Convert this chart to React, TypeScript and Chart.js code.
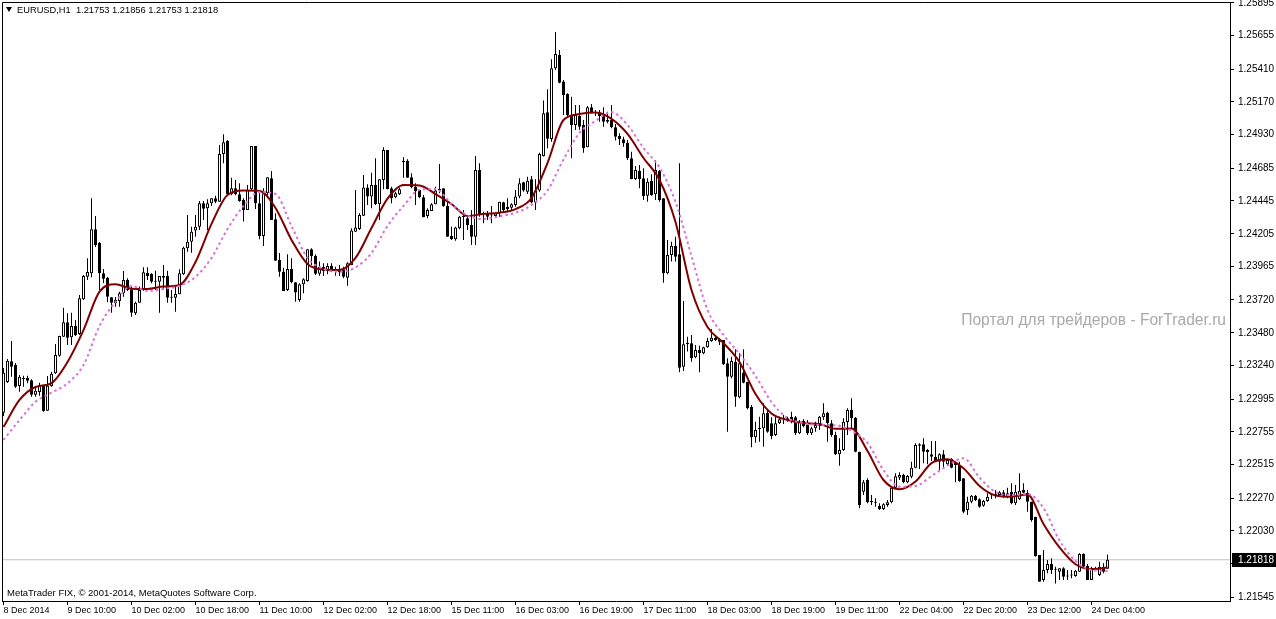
import React, { useEffect, useRef } from "react";
import { Chart, registerables } from "chart.js";

Chart.register(...registerables);

const symbolLabel = "EURUSD,H1";
const copyrightText = "MetaTrader FIX, © 2001-2014, MetaQuotes Software Corp.";
const watermarkText = "Портал для трейдеров - ForTrader.ru";

const opens = [
  1.22895,1.23120,1.23271,1.23246,1.23090,1.23142,1.23151,1.23132,1.23027,1.23046,
  1.23095,1.22909,1.23090,1.23183,1.23312,1.23451,1.23557,1.23447,1.23530,1.23471,
  1.23725,1.23891,1.23916,1.24238,1.24140,1.23916,1.23883,1.23740,1.23696,1.23713,
  1.23769,1.23867,1.23799,1.23623,1.23700,1.23793,1.23920,1.23911,1.23854,1.23854,
  1.23896,1.23896,1.23737,1.23737,1.23762,1.23908,1.24099,1.24147,1.24228,1.24257,
  1.24428,1.24392,1.24428,1.24465,1.24440,1.24789,1.24885,1.24494,1.24538,1.24494,
  1.24452,1.24379,1.24531,1.24848,1.24428,1.24189,1.24501,1.24611,1.24311,1.24013,
  1.23927,1.23793,1.23947,1.23850,1.23720,1.23835,1.23859,1.24091,1.24042,1.23913,
  1.23964,1.23935,1.23969,1.23947,1.23949,1.23945,1.23883,1.23976,1.24220,1.24240,
  1.24337,1.24543,1.24477,1.24562,1.24423,1.24599,1.24819,1.24538,1.24472,1.24494,
  1.24731,1.24740,1.24619,1.24550,1.24526,1.24472,1.24335,1.24372,1.24421,1.24521,
  1.24538,1.24409,1.24189,1.24165,1.24245,1.24328,1.24318,1.24269,1.24184,1.24672,
  1.24355,1.24355,1.24343,1.24335,1.24355,1.24436,1.24403,1.24396,1.24416,1.24477,
  1.24582,1.24513,1.24604,1.24433,1.24521,1.24775,1.25095,1.24899,1.25417,1.25514,
  1.25319,1.25229,1.25075,1.25002,1.25068,1.25002,1.24838,1.25131,1.25095,1.25095,
  1.25082,1.25038,1.25038,1.24985,1.24921,1.24897,1.24872,1.24758,1.24606,1.24667,
  1.24611,1.24484,1.24592,1.24494,1.24665,1.24465,1.23916,1.24050,1.24118,1.24055,
  1.23232,1.23398,1.23403,1.23300,1.23354,1.23330,1.23374,1.23420,1.23444,1.23435,
  1.23427,1.23257,1.23158,1.23268,1.23008,1.23188,1.23122,1.22939,1.22715,1.22773,
  1.22781,1.22895,1.22817,1.22732,1.22817,1.22846,1.22854,1.22866,1.22861,1.22744,
  1.22836,1.22805,1.22744,1.22781,1.22797,1.22861,1.22895,1.22817,1.22732,1.22590,
  1.22622,1.22827,1.22915,1.22858,1.22609,1.22316,1.22402,1.22248,1.22241,1.22214,
  1.22190,1.22219,1.22239,1.22346,1.22419,1.22439,1.22385,1.22426,1.22492,1.22653,
  1.22663,1.22622,1.22590,1.22573,1.22536,1.22590,1.22517,1.22556,1.22532,1.22512,
  1.22414,1.22182,1.22243,1.22287,1.22261,1.22214,1.22248,1.22292,1.22292,1.22292,
  1.22312,1.22280,1.22316,1.22231,1.22261,1.22329,1.22309,1.22243,1.22133,1.21853,
  1.21670,1.21743,1.21787,1.21748,1.21730,1.21755,1.21699,1.21706,1.21699,1.21730,
  1.21860,1.21772,1.21670,1.21755,1.21706,1.21767,1.21753,
];

const highs = [
  1.23222,1.23288,1.23420,1.23259,1.23171,1.23166,1.23166,1.23139,1.23090,1.23114,
  1.23098,1.23164,1.23195,1.23398,1.23459,1.23664,1.23623,1.23627,1.23574,1.23757,
  1.23903,1.24026,1.24465,1.24335,1.24145,1.23947,1.23889,1.23742,1.23742,1.23781,
  1.23933,1.23879,1.23818,1.23708,1.23818,1.23960,1.23960,1.23916,1.23935,1.23896,
  1.23976,1.23935,1.23793,1.23818,1.23945,1.24110,1.24343,1.24257,1.24343,1.24445,
  1.24445,1.24458,1.24465,1.24484,1.24855,1.24934,1.24892,1.24616,1.24599,1.24575,
  1.24465,1.24562,1.24848,1.24848,1.24501,1.24538,1.24619,1.24665,1.24355,1.24064,
  1.23957,1.24055,1.24026,1.23850,1.23842,1.23879,1.24091,1.24099,1.24055,1.24001,
  1.23989,1.23989,1.23989,1.23964,1.23976,1.23964,1.23996,1.24245,1.24526,1.24355,
  1.24636,1.24567,1.24652,1.24758,1.24604,1.24838,1.24819,1.24550,1.24513,1.24543,
  1.24765,1.24750,1.24648,1.24575,1.24526,1.24489,1.24392,1.24428,1.24550,1.24716,
  1.24538,1.24452,1.24257,1.24257,1.24335,1.24379,1.24343,1.24379,1.24775,1.24721,
  1.24367,1.24372,1.24409,1.24359,1.24440,1.24440,1.24465,1.24428,1.24526,1.24611,
  1.24586,1.24623,1.24628,1.24604,1.24799,1.25180,1.25263,1.25483,1.25683,1.25551,
  1.25331,1.25234,1.25209,1.25148,1.25148,1.25038,1.25141,1.25155,1.25112,1.25112,
  1.25131,1.25099,1.25148,1.25009,1.24941,1.24916,1.24892,1.24806,1.24701,1.24709,
  1.24685,1.24611,1.24641,1.24745,1.24672,1.24465,1.24160,1.24147,1.24184,1.24721,
  1.23713,1.23451,1.23464,1.23391,1.23385,1.23378,1.23444,1.23508,1.23464,1.23440,
  1.23427,1.23293,1.23305,1.23359,1.23330,1.23359,1.23122,1.22951,1.22829,1.22866,
  1.22964,1.22915,1.22861,1.22866,1.22866,1.22878,1.22866,1.22902,1.22871,1.22841,
  1.22846,1.22841,1.22792,1.22829,1.22871,1.22964,1.22902,1.22841,1.22756,1.22707,
  1.22854,1.22927,1.23000,1.22863,1.22609,1.22402,1.22414,1.22292,1.22268,1.22231,
  1.22231,1.22256,1.22353,1.22451,1.22458,1.22448,1.22439,1.22536,1.22671,1.22671,
  1.22707,1.22629,1.22688,1.22688,1.22597,1.22622,1.22556,1.22561,1.22536,1.22536,
  1.22414,1.22280,1.22292,1.22292,1.22268,1.22256,1.22305,1.22305,1.22329,1.22321,
  1.22329,1.22346,1.22378,1.22365,1.22451,1.22378,1.22329,1.22243,1.22133,1.21853,
  1.21889,1.21816,1.21829,1.21767,1.21755,1.21763,1.21743,1.21743,1.21743,1.21865,
  1.21865,1.21787,1.21767,1.21767,1.21804,1.21792,1.21856,
];

const lows = [
  1.22871,1.23112,1.23158,1.23076,1.23049,1.23085,1.23110,1.23012,1.23012,1.23019,
  1.22902,1.22909,1.23085,1.23178,1.23305,1.23451,1.23391,1.23391,1.23456,1.23464,
  1.23720,1.23867,1.23886,1.24108,1.23793,1.23842,1.23703,1.23627,1.23671,1.23671,
  1.23744,1.23786,1.23598,1.23610,1.23700,1.23788,1.23867,1.23842,1.23793,1.23627,
  1.23793,1.23700,1.23700,1.23634,1.23762,1.23903,1.24074,1.24066,1.24184,1.24233,
  1.24306,1.24233,1.24409,1.24428,1.24440,1.24721,1.24489,1.24487,1.24487,1.24440,
  1.24294,1.24379,1.24526,1.24386,1.24165,1.24115,1.24465,1.24306,1.24008,1.23891,
  1.23786,1.23786,1.23842,1.23708,1.23708,1.23769,1.23854,1.23976,1.23903,1.23898,
  1.23896,1.23908,1.23927,1.23898,1.23896,1.23879,1.23825,1.23976,1.24220,1.24233,
  1.24335,1.24416,1.24392,1.24416,1.24306,1.24531,1.24531,1.24428,1.24465,1.24489,
  1.24616,1.24616,1.24538,1.24416,1.24465,1.24326,1.24318,1.24372,1.24421,1.24501,
  1.24403,1.24184,1.24160,1.24154,1.24238,1.24160,1.24233,1.24123,1.24123,1.24330,
  1.24282,1.24306,1.24282,1.24326,1.24330,1.24367,1.24367,1.24379,1.24403,1.24465,
  1.24513,1.24496,1.24428,1.24379,1.24513,1.24770,1.24831,1.24879,1.25404,1.25307,
  1.25075,1.25068,1.24758,1.24965,1.24965,1.24799,1.24838,1.25087,1.25068,1.25026,
  1.24989,1.25014,1.24977,1.24887,1.24855,1.24843,1.24745,1.24604,1.24599,1.24538,
  1.24452,1.24440,1.24484,1.24452,1.24440,1.23847,1.23908,1.24001,1.24001,1.23191,
  1.23200,1.23342,1.23268,1.23293,1.23191,1.23322,1.23371,1.23415,1.23420,1.23391,
  1.23244,1.22756,1.23147,1.22939,1.23000,1.23110,1.22920,1.22641,1.22675,1.22682,
  1.22646,1.22748,1.22700,1.22724,1.22812,1.22812,1.22829,1.22817,1.22732,1.22739,
  1.22788,1.22732,1.22732,1.22756,1.22768,1.22841,1.22682,1.22719,1.22585,1.22507,
  1.22614,1.22732,1.22781,1.22605,1.22195,1.22292,1.22231,1.22219,1.22206,1.22182,
  1.22182,1.22206,1.22231,1.22341,1.22402,1.22378,1.22378,1.22414,1.22488,1.22483,
  1.22524,1.22517,1.22541,1.22532,1.22475,1.22488,1.22512,1.22488,1.22385,1.22390,
  1.22158,1.22146,1.22231,1.22248,1.22199,1.22206,1.22243,1.22263,1.22268,1.22287,
  1.22272,1.22268,1.22224,1.22219,1.22256,1.22292,1.22170,1.22097,1.21840,1.21657,
  1.21657,1.21719,1.21714,1.21645,1.21670,1.21670,1.21670,1.21682,1.21694,1.21730,
  1.21763,1.21670,1.21670,1.21743,1.21699,1.21719,1.21753,
];

const closes = [
  1.23188,1.23276,1.23232,1.23085,1.23158,1.23149,1.23129,1.23027,1.23056,1.23092,
  1.22907,1.23092,1.23180,1.23317,1.23456,1.23557,1.23444,1.23530,1.23462,1.23733,
  1.23896,1.23925,1.24238,1.24123,1.23916,1.23876,1.23744,1.23700,1.23720,1.23769,
  1.23867,1.23793,1.23627,1.23700,1.23793,1.23923,1.23896,1.23854,1.23859,1.23896,
  1.23883,1.23737,1.23744,1.23764,1.23916,1.24103,1.24147,1.24220,1.24257,1.24428,
  1.24389,1.24428,1.24465,1.24440,1.24789,1.24875,1.24494,1.24538,1.24494,1.24445,
  1.24379,1.24526,1.24848,1.24428,1.24189,1.24501,1.24619,1.24306,1.24008,1.23927,
  1.23786,1.23947,1.23850,1.23774,1.23835,1.23872,1.24091,1.24042,1.23913,1.23964,
  1.23933,1.23969,1.23935,1.23933,1.23923,1.23891,1.23989,1.24228,1.24250,1.24343,
  1.24543,1.24477,1.24562,1.24423,1.24604,1.24819,1.24531,1.24465,1.24501,1.24531,
  1.24740,1.24616,1.24545,1.24518,1.24472,1.24326,1.24379,1.24421,1.24521,1.24533,
  1.24409,1.24184,1.24167,1.24250,1.24330,1.24335,1.24269,1.24184,1.24672,1.24343,
  1.24350,1.24330,1.24339,1.24355,1.24440,1.24379,1.24386,1.24421,1.24477,1.24575,
  1.24521,1.24594,1.24433,1.24521,1.24789,1.25087,1.24901,1.25417,1.25522,1.25311,
  1.25221,1.25075,1.25002,1.25075,1.24989,1.24831,1.25131,1.25087,1.25090,1.25068,
  1.25026,1.25026,1.24985,1.24916,1.24897,1.24868,1.24758,1.24606,1.24672,1.24606,
  1.24482,1.24586,1.24489,1.24672,1.24452,1.23916,1.24050,1.24118,1.24037,1.23224,
  1.23396,1.23405,1.23293,1.23354,1.23330,1.23374,1.23420,1.23444,1.23427,1.23415,
  1.23249,1.23158,1.23273,1.23012,1.23257,1.23114,1.22927,1.22715,1.22768,1.22785,
  1.22890,1.22756,1.22724,1.22817,1.22846,1.22858,1.22841,1.22841,1.22744,1.22829,
  1.22797,1.22744,1.22781,1.22805,1.22866,1.22890,1.22817,1.22732,1.22590,1.22622,
  1.22829,1.22915,1.22854,1.22609,1.22219,1.22385,1.22239,1.22239,1.22236,1.22190,
  1.22224,1.22239,1.22346,1.22429,1.22439,1.22385,1.22431,1.22492,1.22658,1.22663,
  1.22609,1.22605,1.22573,1.22532,1.22590,1.22536,1.22548,1.22492,1.22512,1.22395,
  1.22170,1.22243,1.22287,1.22256,1.22206,1.22248,1.22280,1.22290,1.22295,1.22312,
  1.22280,1.22305,1.22231,1.22316,1.22324,1.22309,1.22243,1.22109,1.21845,1.21657,
  1.21743,1.21787,1.21743,1.21744,1.21755,1.21694,1.21696,1.21703,1.21738,1.21860,
  1.21767,1.21670,1.21755,1.21753,1.21767,1.21730,1.21818,
];

// moving averages read every 4 bars
const maStep = 4;
const maFast = [
  1.22790,1.22988,1.23083,1.23112,1.23266,1.23500,1.23781,1.23835,1.23803,1.23801,
  1.23818,1.23830,1.23998,1.24277,1.24489,1.24521,1.24518,1.24394,1.24160,1.23984,
  1.23944,1.23940,1.24028,1.24247,1.24462,1.24562,1.24559,1.24496,1.24423,1.24335,
  1.24350,1.24359,1.24386,1.24467,1.24723,1.25038,1.25082,1.25092,1.25046,1.24936,
  1.24760,1.24599,1.24291,1.23793,1.23522,1.23405,1.23266,1.23032,1.22889,1.22841,
  1.22819,1.22812,1.22777,1.22779,1.22614,1.22402,1.22334,1.22391,1.22526,1.22554,
  1.22488,1.22358,1.22289,1.22280,1.22296,1.22080,1.21908,1.21785,1.21750,1.21761,
];
const maSlow = [
  1.22695,1.22841,1.22975,1.23041,1.23110,1.23244,1.23530,1.23706,1.23823,1.23786,
  1.23801,1.23823,1.23889,1.24028,1.24240,1.24409,1.24511,1.24496,1.24262,1.24028,
  1.23949,1.23927,1.23958,1.24064,1.24262,1.24409,1.24526,1.24533,1.24423,1.24339,
  1.24313,1.24333,1.24359,1.24416,1.24522,1.24749,1.24943,1.25031,1.25095,1.25002,
  1.24833,1.24690,1.24438,1.24042,1.23647,1.23464,1.23325,1.23164,1.22973,1.22856,
  1.22819,1.22805,1.22803,1.22761,1.22673,1.22475,1.22353,1.22358,1.22431,1.22507,
  1.22561,1.22420,1.22314,1.22292,1.22299,1.22197,1.21959,1.21809,1.21743,1.21736,
];

const priceTicks = [
  1.25895, 1.25655, 1.2541, 1.2517, 1.2493, 1.24685, 1.24445, 1.24205, 1.23965, 1.2372,
  1.2348, 1.2324, 1.22995, 1.22755, 1.22515, 1.2227, 1.2203, 1.2179, 1.21545,
];
const timeLabels = [
  "8 Dec 2014", "9 Dec 10:00", "10 Dec 02:00", "10 Dec 18:00", "11 Dec 10:00",
  "12 Dec 02:00", "12 Dec 18:00", "15 Dec 11:00", "16 Dec 03:00", "16 Dec 19:00",
  "17 Dec 11:00", "18 Dec 03:00", "18 Dec 19:00", "19 Dec 11:00", "22 Dec 04:00",
  "22 Dec 20:00", "23 Dec 12:00", "24 Dec 04:00",
];
const timeLabelStep = 16;

const X_MIN = -0.375;
const X_MAX = 306.625;
const Y_MIN = 1.21516;
const Y_MAX = 1.25902;
const FONT = "'Liberation Sans', Arial, sans-serif";

const overlayPlugin = {
  id: "mtOverlay",
  beforeDatasetsDraw(chart: any) {
    const { ctx, chartArea } = chart;
    ctx.save();
    ctx.fillStyle = "#a9a9a9";
    ctx.font = `15.6px ${FONT}`;
    ctx.textAlign = "right";
    ctx.textBaseline = "middle";
    ctx.fillText(watermarkText, chartArea.right - 4, 321);
    ctx.restore();
  },
  afterDraw(chart: any) {
    const { ctx, chartArea, scales, width } = chart;
    ctx.save();
    // frame (left / top)
    ctx.strokeStyle = "#000";
    ctx.lineWidth = 1;
    ctx.beginPath();
    ctx.moveTo(chartArea.left + 0.5, chartArea.bottom);
    ctx.lineTo(chartArea.left + 0.5, chartArea.top + 0.5);
    ctx.lineTo(chartArea.right, chartArea.top + 0.5);
    ctx.stroke();

    // header
    const n = closes.length - 1;
    ctx.fillStyle = "#000";
    ctx.beginPath();
    ctx.moveTo(chartArea.left + 4, 7);
    ctx.lineTo(chartArea.left + 10, 7);
    ctx.lineTo(chartArea.left + 7, 12);
    ctx.closePath();
    ctx.fill();
    ctx.font = `9.3px ${FONT}`;
    ctx.textAlign = "left";
    ctx.textBaseline = "middle";
    const header = `${symbolLabel}  ${opens[n].toFixed(5)} ${highs[n].toFixed(5)} ${lows[n].toFixed(5)} ${closes[n].toFixed(5)}`;
    ctx.fillText(header, chartArea.left + 15, 10);

    // copyright
    ctx.font = `9.5px ${FONT}`;
    ctx.fillText(copyrightText, chartArea.left + 5, 593);

    // current price box
    const py = Math.round(scales.y.getPixelForValue(closes[n]));
    ctx.fillStyle = "#000";
    ctx.fillRect(chartArea.right + 2, py - 7, width - chartArea.right - 2, 14);
    ctx.fillStyle = "#fff";
    ctx.font = `10px ${FONT}`;
    ctx.fillText(closes[n].toFixed(5), chartArea.right + 8, py);
    ctx.restore();
  },
};

export default function App() {
  const ref = useRef<HTMLCanvasElement | null>(null);

  useEffect(() => {
    document.body.style.margin = "0";
    const canvas = ref.current;
    if (!canvas) return;
    const idx = closes.map((_, i) => i);
    const n = closes.length - 1;
    const chart = new Chart(canvas, {
      type: "bar",
      data: {
        datasets: [
          {
            type: "line",
            data: maSlow.map((v, i) => ({ x: i * maStep, y: v })),
            borderColor: "#da70d6",
            borderWidth: 2,
            borderDash: [2.5, 3],
            pointRadius: 0,
            cubicInterpolationMode: "monotone",
            order: 0,
          } as any,
          {
            type: "line",
            data: maFast.map((v, i) => ({ x: i * maStep, y: v })),
            borderColor: "#800000",
            borderWidth: 2,
            pointRadius: 0,
            cubicInterpolationMode: "monotone",
            order: 1,
          } as any,
          {
            type: "bar",
            data: idx.map((i) => ({ x: i, y: [opens[i], closes[i]] })),
            backgroundColor: idx.map((i) => (closes[i] >= opens[i] ? "#ffffff" : "#000000")),
            borderColor: "#000000",
            borderWidth: 1,
            borderSkipped: false,
            barThickness: 3,
            maxBarThickness: 3,
            minBarLength: 1,
            grouped: false,
            inflateAmount: 0,
            barPercentage: 1,
            categoryPercentage: 1,
            order: 2,
          } as any,
          {
            type: "bar",
            data: idx.map((i) => ({ x: i, y: [lows[i], highs[i]] })),
            backgroundColor: "#000000",
            borderWidth: 0,
            barThickness: 1,
            maxBarThickness: 1,
            minBarLength: 1,
            grouped: false,
            inflateAmount: 0,
            barPercentage: 1,
            categoryPercentage: 1,
            order: 3,
          } as any,
          {
            type: "line",
            data: [
              { x: X_MIN, y: closes[n] },
              { x: X_MAX, y: closes[n] },
            ],
            borderColor: "#c0c0c0",
            borderWidth: 1,
            pointRadius: 0,
            order: 4,
          } as any,
        ],
      },
      options: {
        animation: false,
        responsive: false,
        devicePixelRatio: 1,
        events: [],
        layout: { padding: { left: 2, top: 2, right: 0, bottom: 0 }, autoPadding: false },
        plugins: { legend: { display: false }, tooltip: { enabled: false }, title: { display: false } },
        scales: {
          x: {
            type: "linear",
            min: X_MIN,
            max: X_MAX,
            offset: false,
            afterBuildTicks: (s: any) => {
              s.ticks = timeLabels.map((_, i) => ({ value: i * timeLabelStep }));
            },
            afterFit: (s: any) => {
              s.height = 18;
              s.paddingLeft = 0;
              s.paddingRight = 0;
            },
            ticks: {
              autoSkip: false,
              maxRotation: 0,
              minRotation: 0,
              align: "start",
              padding: 0,
              color: "#000",
              font: { family: FONT, size: 9 },
              callback: (v: any) => timeLabels[Math.round(Number(v) / timeLabelStep)] ?? "",
            },
            grid: { display: true, drawOnChartArea: false, drawTicks: true, tickLength: 4, color: "#000", offset: false },
            border: { display: true, color: "#000", width: 1 },
          },
          y: {
            type: "linear",
            position: "right",
            min: Y_MIN,
            max: Y_MAX,
            afterBuildTicks: (s: any) => {
              s.ticks = priceTicks.map((v) => ({ value: v }));
            },
            afterFit: (s: any) => {
              s.width = 46;
              s.paddingTop = 0;
              s.paddingBottom = 0;
            },
            ticks: {
              padding: 4,
              color: "#000",
              font: { family: FONT, size: 10 },
              callback: (v: any) => Number(v).toFixed(5),
            },
            grid: { display: true, drawOnChartArea: false, drawTicks: true, tickLength: 4, color: "#000" },
            border: { display: true, color: "#000", width: 1 },
          },
        },
      } as any,
      plugins: [overlayPlugin],
    });
    return () => chart.destroy();
  }, []);

  return (
    <div style={{ width: 1276, height: 619, background: "#fff" }}>
      <canvas ref={ref} width={1276} height={619} style={{ display: "block" }} />
    </div>
  );
}
